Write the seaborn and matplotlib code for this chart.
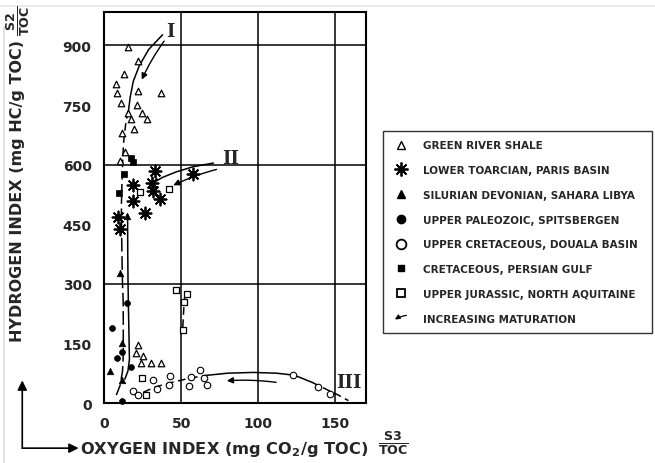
import numpy as np
import pandas as pd
import seaborn as sns
import matplotlib.pyplot as plt
from matplotlib.lines import Line2D
from matplotlib.patches import FancyArrowPatch
from matplotlib.legend_handler import HandlerBase

# --- data (OI, HI) ---
green_oi = [15.8, 21.9, 13.0, 8.0, 8.7, 21.9, 37.0, 11.0, 21.6, 24.9, 27.9, 15.8, 17.5,
            19.5, 11.7, 13.6, 10.6, 21.9, 20.6, 25.5, 24.2, 30.7, 37.0]
green_hi = [896, 862, 827, 803, 780, 785, 780, 755, 751, 730, 716, 731, 715,
            689, 679, 631, 610, 145, 126, 119, 101, 100, 100]

toarc_oi = [33.3, 19.0, 31.4, 32.0, 36.6, 19.0, 26.4, 8.9, 10.4, 57.6]
toarc_hi = [584, 550, 553, 534, 513, 508, 479, 469, 439, 576]

silur_oi = [15.2, 10.4, 11.9, 3.9, 11.5]
silur_hi = [471, 327, 151, 80, 58]

paleo_oi = [14.7, 5.2, 11.9, 8.2, 17.3, 11.7]
paleo_hi = [252, 189, 128, 113, 91, 4]

douala_oi = [18.6, 22.3, 31.8, 34.1, 42.6, 42.4, 56.5, 55.4, 62.1, 64.7, 66.7, 122.5, 139.0, 146.8]
douala_hi = [31, 20, 58, 35, 67, 45, 66, 42, 82, 63, 46, 71, 40, 23]

persian_oi = [17.5, 19.0, 13.0, 9.7]
persian_hi = [618, 606, 577, 529]

jura_oi = [46.8, 53.7, 51.9, 51.1, 24.9, 27.5, 23.4, 42.4]
jura_hi = [285, 275, 254, 183, 62, 20, 532, 538]

# trend curves
c1_oi = [15.8, 17.0, 19.0, 23.0, 29.0, 38.0]
c1_hi = [734, 770, 810, 850, 890, 927]
c1d_oi = [15.5, 14.0, 12.8, 12.2, 11.7, 11.3, 11.3]
c1d_hi = [735, 700, 660, 620, 560, 500, 462]
ca_oi = [11.3, 11.6, 12.0, 12.4, 12.5, 12.5, 12.0, 10.5, 8.0]
ca_hi = [462, 380, 300, 262, 200, 120, 80, 45, 20]
cb_oi = [15.3, 15.4, 15.6, 15.8, 16.2, 16.5, 15.5, 13.5]
cb_hi = [475, 380, 300, 250, 170, 110, 80, 60]
c2_oi = [31.4, 38.0, 47.0, 58.0, 71.0]
c2_hi = [553, 568, 582, 595, 604]
c3a_oi = [25.5, 33.0, 42.0, 54.0, 65.0]
c3a_hi = [27, 40, 50, 61, 69]
c3b_oi = [65.0, 80.0, 97.0, 112.0, 123.5, 135.0]
c3b_hi = [69, 75, 77, 75, 70, 52]
c3c_oi = [135.0, 145.0, 152.0, 158.6]
c3c_hi = [52, 33, 20, 6]
cj_oi = [52.5, 52.0, 51.5, 51.1]
cj_hi = [272, 254, 220, 190]

# maturation arrows: (start_oi, start_hi, end_oi, end_hi)
arrow_i = (39.0, 911, 24.5, 814)
arrow_ii = (73.0, 588, 45.0, 548)
arrow_iii = (111.7, 52, 79.7, 56)

legend_labels = ["GREEN RIVER SHALE", "LOWER TOARCIAN, PARIS BASIN",
                 "SILURIAN DEVONIAN, SAHARA LIBYA", "UPPER PALEOZOIC, SPITSBERGEN",
                 "UPPER CRETACEOUS, DOUALA BASIN", "CRETACEOUS, PERSIAN GULF",
                 "UPPER JURASSIC, NORTH AQUITAINE", "INCREASING MATURATION"]

sns.set_style("white")
plt.rcParams['font.family'] = ['DejaVu Sans']

fig = plt.figure(figsize=(6.55, 4.64), dpi=100)
ax = fig.add_axes([0.1588, 0.1293, 0.4, 0.8433])

sty = dict(ax=ax, clip_on=False, zorder=5, legend=False)
sns.scatterplot(x=green_oi, y=green_hi, marker='^', s=22, facecolor='white', edgecolor='black', linewidth=0.9, **sty)
sns.scatterplot(x=toarc_oi, y=toarc_hi, marker=(8, 2, 0), s=75, color='black', edgecolor='black', linewidth=1.3, **sty)
sns.scatterplot(x=toarc_oi, y=toarc_hi, marker='o', s=10, color='black', edgecolor='black', linewidth=0, **sty)
sns.scatterplot(x=silur_oi, y=silur_hi, marker='^', s=22, color='black', edgecolor='black', linewidth=0.5, **sty)
sns.scatterplot(x=paleo_oi, y=paleo_hi, marker='o', s=18, color='black', edgecolor='black', linewidth=0.5, **sty)
sns.scatterplot(x=douala_oi, y=douala_hi, marker='o', s=22, facecolor='white', edgecolor='black', linewidth=0.8, **sty)
sns.scatterplot(x=persian_oi, y=persian_hi, marker='s', s=14, color='black', edgecolor='black', linewidth=0.5, **sty)
sns.scatterplot(x=jura_oi, y=jura_hi, marker='s', s=18, facecolor='white', edgecolor='black', linewidth=0.9, **sty)

lk = dict(ax=ax, sort=False, estimator=None, color='black', linewidth=1.1, legend=False)
sns.lineplot(x=c1_oi, y=c1_hi, **lk)
sns.lineplot(x=c1d_oi, y=c1d_hi, dashes=False, linestyle=(0, (5, 3)), **lk)
sns.lineplot(x=ca_oi, y=ca_hi, linestyle=(0, (9, 3)), **lk)
sns.lineplot(x=cb_oi, y=cb_hi, **lk)
sns.lineplot(x=c2_oi, y=c2_hi, **lk)
sns.lineplot(x=c3a_oi, y=c3a_hi, linestyle=(0, (5, 3)), **lk)
sns.lineplot(x=c3b_oi, y=c3b_hi, **lk)
sns.lineplot(x=c3c_oi, y=c3c_hi, linestyle=(0, (5, 3)), **lk)
sns.lineplot(x=cj_oi, y=cj_hi, linestyle=(0, (5, 3)), **lk)

for x0, y0, x1, y1 in [arrow_i, arrow_ii, arrow_iii]:
    ax.annotate("", xy=(x1, y1), xytext=(x0, y0),
                arrowprops=dict(arrowstyle='-|>', color='black', lw=1.0,
                                mutation_scale=9, shrinkA=0, shrinkB=0,
                                connectionstyle='arc3,rad=0.05'))

for txt, xx, yy in [("I", 43, 937), ("II", 82, 616), ("III", 158.6, 53)]:
    ax.text(xx, yy, txt, family='DejaVu Serif', fontweight='bold', fontsize=13,
            ha='center', va='center')

ax.set_xlim(0, 170)
ax.set_ylim(0, 985)
ax.set_xticks([0, 50, 100, 150])
ax.set_yticks([0, 150, 300, 450, 600, 750, 900])
ax.tick_params(direction='out', length=7, width=1.2, color='black', labelsize=10, pad=2)
for lab in ax.get_xticklabels() + ax.get_yticklabels():
    lab.set_fontweight('bold')
for sp in ax.spines.values():
    sp.set_color('black')
    sp.set_linewidth(1.5)
for v in [50, 100, 150]:
    ax.axvline(v, color='black', lw=1.1, zorder=1)
for h in [300, 600, 900]:
    ax.axhline(h, color='black', lw=1.1, zorder=1)
ax.set_xlabel("")
ax.set_ylabel("")


class ArrowHandler(HandlerBase):
    def create_artists(self, legend, orig, xd, yd, w, h, fs, trans):
        a = FancyArrowPatch((xd + w, yd + h * 0.9), (xd, yd + h * 0.1),
                            arrowstyle='-|>', mutation_scale=7, lw=0.9,
                            color='black', connectionstyle='arc3,rad=0.15',
                            transform=trans)
        return [a]


handles = [
    Line2D([], [], ls='', marker='^', ms=6, mfc='white', mec='black', mew=1),
    Line2D([], [], ls='', marker=(8, 2, 0), ms=10, color='black', mew=1.3),
    Line2D([], [], ls='', marker='^', ms=6, color='black'),
    Line2D([], [], ls='', marker='o', ms=6, color='black'),
    Line2D([], [], ls='', marker='o', ms=7, mfc='white', mec='black', mew=1.3),
    Line2D([], [], ls='', marker='s', ms=5, color='black'),
    Line2D([], [], ls='', marker='s', ms=6, mfc='white', mec='black', mew=1.3),
    Line2D([], [], color='black'),
]
leg = ax.legend(handles, legend_labels, loc='center left',
                bbox_to_anchor=(0.585, 0.272, 0.41, 0.452), bbox_transform=fig.transFigure,
                mode='expand', frameon=True, fancybox=False, edgecolor='black',
                prop=dict(weight='bold', size=7.5), labelspacing=1.42, handlelength=1.6,
                handletextpad=1.3, borderpad=0.9, borderaxespad=0,
                handler_map={handles[-1]: ArrowHandler()})
leg.get_frame().set_linewidth(1.0)

# axis titles with arrows and ratio fractions
fig.text(0.027, 0.588, "HYDROGEN INDEX (mg HC/g TOC)", rotation=90, ha='center', va='center',
         fontsize=11.5, fontweight='bold')
fig.text(0.027, 0.955, r"$\mathbf{\frac{S2}{TOC}}$", rotation=90, ha='center', va='center', fontsize=13)
fig.text(0.122, 0.032, r"OXYGEN INDEX (mg CO$_\mathbf{2}$/g TOC)", ha='left', va='center',
         fontsize=11.7, fontweight='bold')
fig.text(0.6, 0.045, r"$\mathbf{\frac{S3}{TOC}}$", ha='center', va='center', fontsize=13)
ax.annotate("", xy=(0.034, 0.178), xytext=(0.034, 0.032), xycoords='figure fraction',
            textcoords='figure fraction',
            arrowprops=dict(arrowstyle='-|>', color='black', lw=1.2, mutation_scale=14,
                            shrinkA=0, shrinkB=0))
ax.annotate("", xy=(0.12, 0.032), xytext=(0.034, 0.032), xycoords='figure fraction',
            textcoords='figure fraction',
            arrowprops=dict(arrowstyle='-|>', color='black', lw=1.2, mutation_scale=14,
                            shrinkA=0, shrinkB=0))

fig.add_artist(Line2D([0.006, 0.006], [0.0, 0.94], color='#dddddd', lw=1.2, transform=fig.transFigure))
fig.add_artist(Line2D([0.0, 1.0], [0.985, 0.985], color='#e6e6e6', lw=1.2, transform=fig.transFigure))

fig.savefig("out.png", dpi=100)
